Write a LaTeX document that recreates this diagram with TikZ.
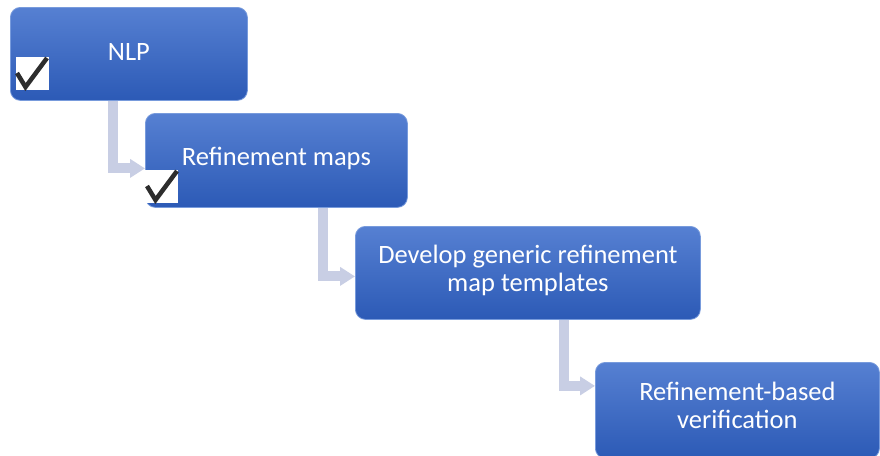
\documentclass[tikz,border=0pt]{standalone}
\usepackage{fontspec}
\setmainfont{Carlito}
\usetikzlibrary{arrows.meta,calc}
\definecolor{boxtop}{RGB}{86,128,210}
\definecolor{boxbot}{RGB}{44,90,182}
\definecolor{boxedge}{RGB}{120,155,220}
\definecolor{connc}{RGB}{200,206,228}
\definecolor{checkc}{RGB}{45,45,45}
\tikzset{
  stepbox/.style={rectangle, rounded corners=10pt, top color=boxtop, bottom color=boxbot,
    draw=boxedge, line width=0.8pt, text=white, align=center,
    font=\fontsize{26.5}{28}\selectfont, inner sep=0pt, anchor=north west},
  steptext/.style={text=white, align=center, font=\fontsize{26.5}{28}\selectfont, inner sep=0pt},
  conn/.style={connc, line width=10pt, -{Triangle[length=15pt,width=18pt]}},
  chkbox/.style={fill=white, draw=none, anchor=north west, inner sep=0pt, minimum width=33pt, minimum height=33pt},
  chk/.style={checkc, line width=4.5pt, line cap=butt, line join=miter}
}
\begin{document}
\begin{tikzpicture}[x=1pt,y=-1pt]
\useasboundingbox (0,0) rectangle (880,455);
\fill[white] (0,0) rectangle (880,455);
\begin{scope}
\clip (0,0) rectangle (880,455);
\node[stepbox, minimum width=237pt, minimum height=93pt] (n1) at (10,7) {};
\node[steptext] (t1) at ([yshift=2pt]n1.center) {NLP};
\node[stepbox, minimum width=262pt, minimum height=94pt] (n2) at (145,113) {};
\node[steptext] (t2) at ([yshift=2pt]n2.center) {Refinement maps};
\node[stepbox, minimum width=345pt, minimum height=93pt] (n3) at (355,226) {};
\node[steptext] (t3) at ([yshift=2pt]n3.center) {Develop generic refinement\\map templates};
\node[stepbox, minimum width=284pt, minimum height=96pt] (n4) at (595,362) {};
\node[steptext] (t4) at ([yshift=5pt]n4.center) {Refinement-based\\verification};

\draw[conn] ([xshift=-15.5pt]n1.south) |- ([yshift=-8pt]n2.west);
\draw[conn] ([xshift=47pt]n2.south) |- ([yshift=-3.5pt]n3.west);
\draw[conn] ([xshift=36.5pt]n3.south) |- ([yshift=24.5pt]n4.west);

\node[chkbox] (c1) at (16,57) {};
\draw[chk] (17,73) -- (25.5,87) -- (47,58);
\node[chkbox] (c2) at (145,170) {};
\draw[chk] (147,186) -- (155.5,200) -- (177,171);
\end{scope}
\end{tikzpicture}
\end{document}
